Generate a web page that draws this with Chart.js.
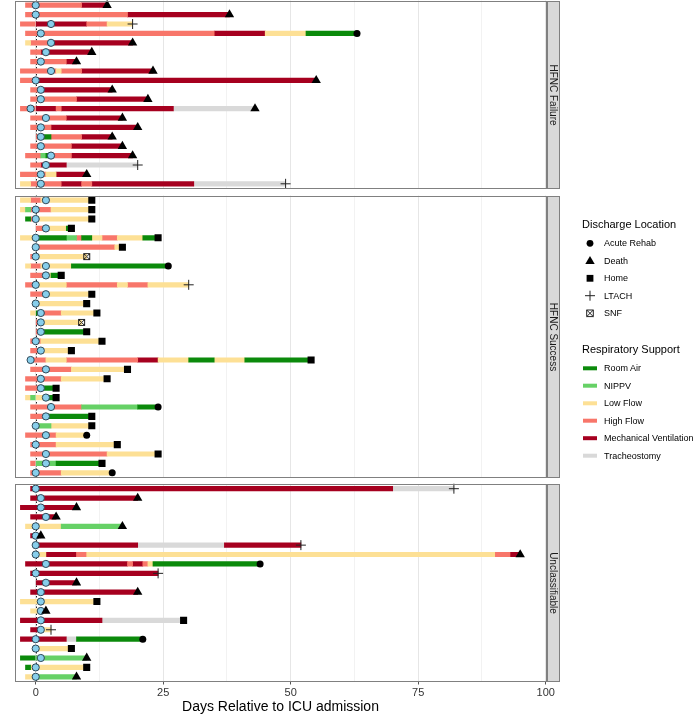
<!DOCTYPE html>
<html><head><meta charset="utf-8">
<script src="https://cdn.jsdelivr.net/npm/chart.js@4.4.0/dist/chart.umd.min.js"></script>
<style>
body{margin:0;background:#fff;width:700px;height:716px;position:relative;overflow:hidden;font-family:"Liberation Sans",Arial,Helvetica,sans-serif;}
canvas{position:absolute;left:0;}
.lg{position:absolute;white-space:nowrap;color:#000;}
.t{font-size:11px;line-height:14px;}
.i{font-size:9px;line-height:12px;}
svg{position:absolute;left:0;top:0;}
</style></head><body>
<canvas id="c1" width="560" height="190" style="top:0px"></canvas>
<canvas id="c2" width="560" height="290" style="top:190px"></canvas>
<canvas id="c3" width="560" height="236" style="top:480px"></canvas>
<svg width="700" height="716" id="lgsvg"></svg>
<div id="legend"></div>
<script>
// ---------- DATA ----------
const supportCodes  = ['RA','NI','LF','HF','MV','TR'];
const supportNames  = ['Room Air','NIPPV','Low Flow','High Flow','Mechanical Ventilation','Tracheostomy'];
const dischargeNames = ['Acute Rehab','Death','Home','LTACH','SNF'];
const panelNames = ['HFNC Failure','HFNC Success','Unclassifiable'];
const xTickValues = [0,25,50,75,100];
const xGridValues = [0,12.5,25,37.5,50,62.5,75,87.5,100];
const xTitle = 'Days Relative to ICU admission';

// HFNC Failure
const failureSupport = [
 [['HF',-2,9],['MV',9,14]],
 [['HF',-2,18],['MV',18,38]],
 [['HF',-3,0],['MV',0,10],['HF',10,14],['LF',14,19]],
 [['HF',-2,35],['MV',35,45],['LF',45,53],['RA',53,63]],
 [['LF',-2,-1],['HF',-1,3],['MV',3,19]],
 [['HF',-1,1],['MV',1,11]],
 [['HF',-1,6],['MV',6,8]],
 [['HF',-3,4],['LF',4,5],['HF',5,9],['MV',9,23]],
 [['HF',-3,0],['MV',0,55]],
 [['HF',-1,1],['MV',1,15]],
 [['HF',-1,8],['MV',8,22]],
 [['HF',-3,0],['MV',0,4],['HF',4,5],['MV',5,27],['TR',27,43]],
 [['HF',-1,6],['MV',6,17]],
 [['HF',-1,3],['MV',3,20]],
 [['HF',0,1.5],['RA',1.5,3],['HF',3,9],['MV',9,15]],
 [['HF',-1,7],['MV',7,17]],
 [['HF',-2,1],['NI',1,2],['RA',2,3],['HF',3,7],['MV',7,19]],
 [['HF',-1,1],['MV',1,6],['TR',6,20]],
 [['HF',-3,2],['LF',2,4],['MV',4,10]],
 [['LF',-3,-1],['HF',-1,5],['MV',5,9],['HF',9,11],['MV',11,31],['TR',31,49]]
];
const failureHfnc = [0,0,3,1,3,2,1,3,0,1,1,-1,2,1,1,1,3,2,1,1];
const failureEndDay = [14,38,19,63,19,11,8,23,55,15,22,43,17,20,15,17,19,20,10,49];
const failureOutcome = ['Death','Death','LTACH','Acute Rehab','Death','Death','Death','Death','Death','Death',
 'Death','Death','Death','Death','Death','Death','Death','LTACH','Death','LTACH'];

// HFNC Success
const successSupport = [
 [['LF',-3,-1],['HF',-1,1],['LF',1,11]],
 [['LF',-3,-2],['NI',-2,-1],['HF',-1,3],['LF',3,11]],
 [['RA',-2,-1],['HF',-1,0],['LF',0,11]],
 [['HF',0,2],['LF',2,6],['RA',6,7]],
 [['LF',-3,0],['RA',0,6],['NI',6,8],['HF',8,9],['RA',9,11],['LF',11,13],['HF',13,16],['LF',16,21],['RA',21,24]],
 [['HF',-0.5,15.5],['LF',15.5,17]],
 [['HF',-1,0],['LF',0,10]],
 [['LF',-2,-1],['HF',-1,1],['LF',1,7],['RA',7,26]],
 [['HF',-1,2],['LF',2,3],['RA',3,5]],
 [['HF',-2,0],['LF',0,6],['HF',6,16],['LF',16,18],['HF',18,22],['LF',22,30]],
 [['HF',-1,2],['LF',2,11]],
 [['HF',-0.5,0],['LF',0,10]],
 [['LF',-1,0],['RA',0,1],['HF',1,5],['LF',5,12]],
 [['HF',0,1],['LF',1,9]],
 [['HF',0,1],['RA',1,10]],
 [['HF',-1,1],['LF',1,13]],
 [['HF',-1,1],['LF',1,7]],
 [['HF',-1,2],['LF',2,6],['HF',6,20],['MV',20,24],['LF',24,30],['RA',30,35],['LF',35,41],['RA',41,54]],
 [['HF',-1,7],['LF',7,18]],
 [['HF',-2,5],['LF',5,14]],
 [['HF',-2,1],['RA',1,4]],
 [['LF',-2,-1],['NI',-1,0],['LF',0,2],['RA',2,4]],
 [['HF',-1,9],['NI',9,20],['RA',20,24]],
 [['HF',-1,2.5],['RA',2.5,11]],
 [['HF',-0.5,0.5],['NI',0.5,3],['LF',3,11]],
 [['HF',-2,4],['LF',4,10]],
 [['HF',-1,4],['LF',4,16]],
 [['HF',-1,14],['LF',14,24]],
 [['HF',-1,0],['NI',0,4],['RA',4,13]],
 [['HF',-1,5],['LF',5,15]]
];
const successHfnc = [2,0,0,2,0,0,0,2,2,0,2,0,1,1,1,0,1,-1,2,1,1,2,3,2,0,2,0,2,2,0];
const successEndDay = [11,11,11,7,24,17,10,26,5,30,11,10,12,9,10,13,7,54,18,14,4,4,24,11,11,10,16,24,13,15];
const successOutcome = ['Home','Home','Home','Home','Home','Home','SNF','Acute Rehab','Home','LTACH',
 'Home','Home','Home','SNF','Home','Home','Home','Home','Home','Home',
 'Home','Home','Acute Rehab','Home','Home','Acute Rehab','Home','Home','Home','Acute Rehab'];

// Unclassifiable
const unclassSupport = [
 [['MV',-1,70],['TR',70,82]],
 [['MV',-1,20]],
 [['MV',-3,8]],
 [['MV',-1,4]],
 [['LF',-2,5],['NI',5,17]],
 [['MV',-1,1]],
 [['MV',0,20],['TR',20,37],['MV',37,52]],
 [['LF',0,2],['MV',2,8],['HF',8,10],['LF',10,90],['HF',90,93],['MV',93,95]],
 [['MV',-2,18],['HF',18,19],['MV',19,21],['HF',21,22],['LF',22,23],['RA',23,44]],
 [['MV',-1,24]],
 [['MV',0,8]],
 [['MV',-1,20]],
 [['LF',-3,12]],
 [['LF',-1,2]],
 [['MV',-3,13],['TR',13,29]],
 [['MV',-1,1],['LF',1,3]],
 [['MV',-3,6],['TR',6,8],['RA',8,21]],
 [['LF',-0.5,7]],
 [['RA',-3,0],['NI',0,10]],
 [['RA',-2,-1],['LF',-1,10]],
 [['LF',-2,0],['NI',0,8]]
];
const unclassHfnc = [0,1,1,2,0,0,0,0,2,0,2,1,1,1,1,1,0,0,1,0,0];
const unclassEndDay = [82,20,8,4,17,1,52,95,44,24,8,20,12,2,29,3,21,7,10,10,8];
const unclassOutcome = ['LTACH','Death','Death','Death','Death','Death','LTACH','Death','Acute Rehab','LTACH',
 'Death','Death','Home','Death','Home','LTACH','Acute Rehab','Home','Death','Home','Death'];

// ---------- STYLE ----------
const FONT = '"Liberation Sans", Arial, Helvetica, sans-serif';
const supportColors = {RA:'#0B8A0B', NI:'#66D166', LF:'#FDE095', HF:'#F8766A', MV:'#A6001F', TR:'#D9D9D9'};

function snfCanvas(){
  const c = document.createElement('canvas'); c.width = 9; c.height = 9;
  const g = c.getContext('2d'); g.strokeStyle = '#222'; g.lineWidth = 1;
  g.strokeRect(1.5,1.5,6,6);
  g.beginPath(); g.moveTo(1.5,1.5); g.lineTo(7.5,7.5); g.moveTo(7.5,1.5); g.lineTo(1.5,7.5); g.stroke();
  return c;
}
const outcomeStyle = {
  'Acute Rehab': {style:'circle', r:3.5, fill:'#000', stroke:'#000', bw:0},
  'Death': {style:'triangle', r:5.4, fill:'#000', stroke:'#000', bw:0},
  'Home': {style:'rect', r:5, fill:'#000', stroke:'#000', bw:0},
  'LTACH': {style:'cross', r:5, fill:'#222', stroke:'#222', bw:1},
  'SNF': {style:snfCanvas(), r:4.5, fill:'#222', stroke:'#222', bw:1}
};

const panelPlugin = {
  id:'panel',
  beforeDatasetsDraw(chart){
    const {ctx, chartArea:a, scales:{x}} = chart;
    const px = Math.round(x.getPixelForValue(0)) + 0.5;
    ctx.save();
    ctx.strokeStyle = '#222'; ctx.lineWidth = 1; ctx.setLineDash([1.5,2]);
    ctx.beginPath(); ctx.moveTo(px, a.top); ctx.lineTo(px, a.bottom); ctx.stroke();
    ctx.restore();
  },
  afterDraw(chart, args, opts){
    const {ctx, chartArea:a} = chart;
    const L = Math.round(a.left)+0.5, R = Math.round(a.right)+0.5, T = Math.round(a.top)+0.5, B = Math.round(a.bottom)-0.5;
    ctx.save();
    ctx.strokeStyle = '#808080'; ctx.lineWidth = 1;
    ctx.strokeRect(L, T, R-L, B-T);
    const sx = R + 1, sw = 12;
    ctx.fillStyle = '#d9d9d9'; ctx.fillRect(sx, T, sw, B-T);
    ctx.strokeRect(sx, T, sw, B-T);
    ctx.translate(sx + sw/2, (T+B)/2); ctx.rotate(Math.PI/2);
    ctx.fillStyle = '#1a1a1a'; ctx.font = '10px ' + FONT; ctx.textAlign = 'center'; ctx.textBaseline = 'middle';
    ctx.fillText(opts.strip, 0, 0.5);
    ctx.restore();
  }
};

function buildPanel(id, prefix, support, hfnc, endDay, outcome, strip, bottom, padTop, padBottom){
  const ids = support.map((_, i) => prefix + (i+1));
  const datasets = [];
  supportCodes.forEach((code, k) => {
    const data = [];
    support.forEach((segs, i) => segs.forEach(s => { if (s[0] === code) data.push({x:[s[1], s[2]], y:ids[i]}); }));
    datasets.push({type:'bar', indexAxis:'y', label:supportNames[k], data, backgroundColor:supportColors[code],
      barThickness:4.5, grouped:false, borderWidth:0, order:3});
  });
  datasets.push({type:'scatter', label:'HFNC start', data:hfnc.map((v,i)=>({x:v, y:ids[i]})),
    pointStyle:'circle', pointRadius:3.6, pointBackgroundColor:'#87CEEB', pointBorderColor:'#2f4858', pointBorderWidth:1, order:2});
  dischargeNames.forEach(name => {
    const st = outcomeStyle[name];
    const data = [];
    outcome.forEach((o,i) => { if (o === name) data.push({x:endDay[i], y:ids[i]}); });
    datasets.push({type:'scatter', label:name, data, pointStyle:st.style, pointRadius:st.r,
      pointBackgroundColor:st.fill, pointBorderColor:st.stroke, pointBorderWidth:st.bw, order:1});
  });
  const isMajor = c => c.tick && xTickValues.includes(c.tick.value);
  new Chart(document.getElementById(id), {
    type:'bar',
    data:{labels:ids, datasets},
    options:{
      indexAxis:'y', responsive:false, maintainAspectRatio:false, animation:false, events:[],
      layout:{autoPadding:false, padding:{left:15.3, right:14.3, top:padTop, bottom:padBottom}},
      plugins:{legend:{display:false}, tooltip:{enabled:false}, panel:{strip}},
      scales:{
        x:{
          type:'linear', min:-4, max:100,
          afterBuildTicks: s => { s.ticks = xGridValues.map(v => ({value:v})); },
          grid:{ color: c => isMajor(c) ? '#e6e6e6' : '#f2f2f2', lineWidth:1, drawTicks:bottom, tickLength:3,
                 tickColor: c => isMajor(c) ? '#555' : 'rgba(0,0,0,0)' },
          border:{display:false},
          ticks:{ display:bottom, autoSkip:false, maxRotation:0, padding:2, color:'#333',
                  font:{family:FONT, size:11}, callback: v => xTickValues.includes(v) ? String(v) : '' },
          title:{ display:bottom, text:xTitle, color:'#000', font:{family:FONT, size:14}, padding:{top:0, bottom:0} },
          afterFit: s => { s.height = bottom ? 34.5 : 0; }
        },
        y:{ type:'category', display:false, offset:true, grid:{display:false} }
      }
    },
    plugins:[panelPlugin]
  });
}

buildPanel('c1','F', failureSupport, failureHfnc, failureEndDay, failureOutcome, panelNames[0], false, 0.5, 1.5);
buildPanel('c2','S', successSupport, successHfnc, successEndDay, successOutcome, panelNames[1], false, 5.5, 2.5);
buildPanel('c3','U', unclassSupport, unclassHfnc, unclassEndDay, unclassOutcome, panelNames[2], true, 4, 0);

// ---------- LEGEND ----------
(function(){
  const lg = document.getElementById('legend');
  const svg = document.getElementById('lgsvg');
  const NS = 'http://www.w3.org/2000/svg';
  function txt(s, x, cy, cls, lh){
    const d = document.createElement('div'); d.className = 'lg ' + cls; d.textContent = s;
    d.style.left = x + 'px'; d.style.top = (cy - lh/2) + 'px'; lg.appendChild(d);
  }
  function el(tag, attrs){ const e = document.createElementNS(NS, tag); for (const k in attrs) e.setAttribute(k, attrs[k]); svg.appendChild(e); return e; }
  txt('Discharge Location', 582, 224.3, 't', 14);
  const dY = [243.3, 260.7, 278.3, 295.7, 313.3];
  dischargeNames.forEach((n, i) => {
    const y = dY[i], x = 590;
    if (n === 'Acute Rehab') el('circle', {cx:x, cy:y, r:3.4, fill:'#000'});
    if (n === 'Death') el('polygon', {points:`${x},${y-4.6} ${x-4.7},${y+3.4} ${x+4.7},${y+3.4}`, fill:'#000'});
    if (n === 'Home') el('rect', {x:x-3.4, y:y-3.4, width:6.8, height:6.8, fill:'#000'});
    if (n === 'LTACH') el('path', {d:`M${x-5} ${y}H${x+5}M${x} ${y-5}V${y+5}`, stroke:'#222', 'stroke-width':1, fill:'none'});
    if (n === 'SNF') el('path', {d:`M${x-3.3} ${y-3.3}h6.6v6.6h-6.6zM${x-3.3} ${y-3.3}l6.6 6.6M${x+3.3} ${y-3.3}l-6.6 6.6`, stroke:'#222', 'stroke-width':1, fill:'none'});
    txt(n, 604, y, 'i', 12);
  });
  txt('Respiratory Support', 582, 349.3, 't', 14);
  const rY = [368.3, 385.7, 403.3, 420.7, 438.2, 455.7];
  supportNames.forEach((n, i) => {
    el('line', {x1:583, x2:597, y1:rY[i], y2:rY[i], stroke:supportColors[supportCodes[i]], 'stroke-width':4});
    txt(n, 604, rY[i], 'i', 12);
  });
})();
</script>
</body></html>
